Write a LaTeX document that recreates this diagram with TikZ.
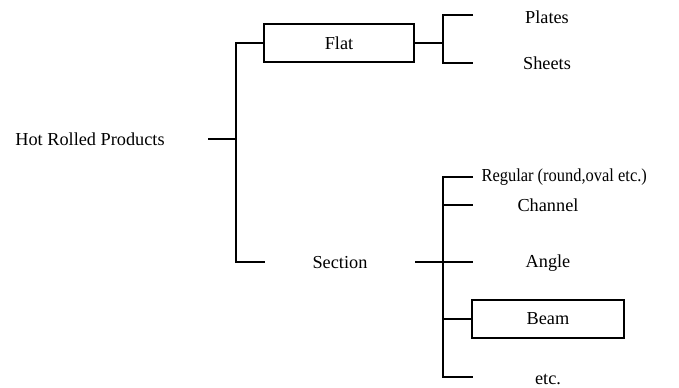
\documentclass[tikz,border=0pt]{standalone}
\usepackage{fontspec}
\setmainfont{Liberation Serif}
\begin{document}
\begin{tikzpicture}
  [
    x=0.7pt, y=-0.7pt,
    line width=0.8pt,
    every node/.style={font=\fontsize{12.8}{15}\selectfont},
    word/.style={inner sep=0mm},
    box/.style={rectangle,draw,minimum width=105pt,minimum height=26.6pt},
  ]
  \useasboundingbox (0,0) rectangle (679,388);
  % root and first level
  \node (hot) at (90,139) [word] {Hot Rolled Products};
  \node (flat) at (339,43) [box] {Flat};
  \node (section) at (340,263) [word] {Section};
  \coordinate (hotend) at (208,139);
  \coordinate (hotmid) at (236,139);
  \coordinate (hotbot) at (236,262);
  \coordinate (secarm) at (265,262);
  \draw (hotend) -- (hotmid);
  \draw (flat.west) -| (hotbot) -- (secarm);
  % flat products
  \node (plates) at (547,17) [word] {Plates};
  \node (sheets) at (547,63) [word] {Sheets};
  \coordinate (flatmid) at (443,43);
  \coordinate (platearm) at (473,15);
  \coordinate (sheetarm) at (473,63);
  \draw (flat.east) -- (flatmid);
  \draw (platearm) -| (flatmid) |- (sheetarm);
  % sections
  \node (regular) at (481,177) [word,anchor=west,xscale=0.9] {Regular (round,oval etc.)};
  \node (channel) at (548,205) [word] {Channel};
  \node (angle) at (548,263) [word] {Angle};
  \node (beam) at (548,319) [box,minimum width=106.4pt] {Beam};
  \node (etc) at (548,379) [word] {etc.};
  \coordinate (secend) at (415,262);
  \coordinate (regarm) at (473,177);
  \coordinate (secbot) at (443,377);
  \coordinate (etcarm) at (473,377);
  \coordinate (chanv) at (443,205);
  \coordinate (chanarm) at (473,205);
  \coordinate (anglearm) at (473,262);
  \coordinate (beamv) at (443,319);
  \draw (regarm) -| (secbot) -- (etcarm);
  \draw (chanv) -- (chanarm);
  \draw (secend) -- (anglearm);
  \draw (beamv) -- (beam.west);
\end{tikzpicture}
\end{document}
